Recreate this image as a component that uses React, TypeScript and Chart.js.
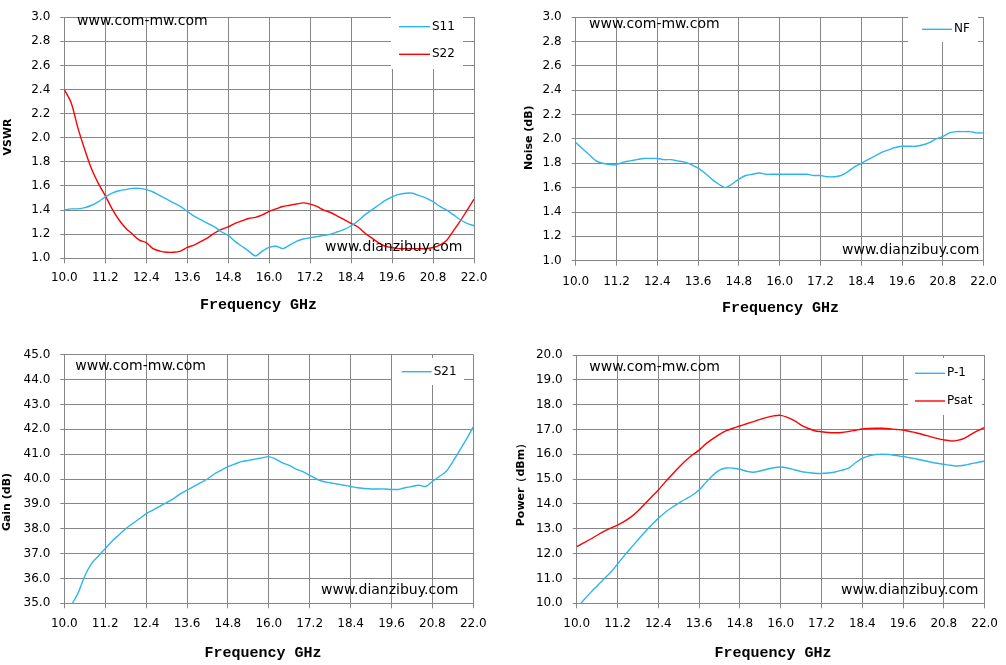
import React, { useEffect, useRef } from 'react';
import { Chart, registerables } from 'chart.js';

Chart.register(...registerables);

const PAGE_W = 1006;
const PAGE_H = 665;
const Y_AXIS_W = 60;
const X_AXIS_H = 40;

const GRID = '#868686';
const BLUE = '#2db6ec';
const RED = '#ff0000';
const SANS = '"DejaVu Sans", sans-serif';
const MONO = '"Liberation Mono", monospace';

// frequency points (GHz) shared by every trace
const freqGHz = [
  10.0, 10.2, 10.4, 10.6, 10.8, 11.0, 11.2, 11.4, 11.6, 11.8,
  12.0, 12.2, 12.4, 12.6, 12.8, 13.0, 13.2, 13.4, 13.6, 13.8,
  14.0, 14.2, 14.4, 14.6, 14.8, 15.0, 15.2, 15.4, 15.6, 15.8,
  16.0, 16.2, 16.4, 16.6, 16.8, 17.0, 17.2, 17.4, 17.6, 17.8,
  18.0, 18.2, 18.4, 18.6, 18.8, 19.0, 19.2, 19.4, 19.6, 19.8,
  20.0, 20.2, 20.4, 20.6, 20.8, 21.0, 21.2, 21.4, 21.6, 21.8, 22.0,
];

const freqTicks = [10.0, 11.2, 12.4, 13.6, 14.8, 16.0, 17.2, 18.4, 19.6, 20.8, 22.0];
const vswrTicks = [1.0, 1.2, 1.4, 1.6, 1.8, 2.0, 2.2, 2.4, 2.6, 2.8, 3.0];
const noiseTicks = [1.0, 1.2, 1.4, 1.6, 1.8, 2.0, 2.2, 2.4, 2.6, 2.8, 3.0];
const gainTicks = [35, 36, 37, 38, 39, 40, 41, 42, 43, 44, 45];
const powerTicks = [10, 11, 12, 13, 14, 15, 16, 17, 18, 19, 20];

const s11 = [
  1.40, 1.41, 1.41, 1.42, 1.44, 1.47, 1.51, 1.54, 1.56, 1.57,
  1.58, 1.58, 1.57, 1.55, 1.52, 1.49, 1.46, 1.43, 1.39, 1.35,
  1.32, 1.29, 1.26, 1.22, 1.19, 1.14, 1.10, 1.06, 1.02, 1.06,
  1.09, 1.10, 1.08, 1.11, 1.14, 1.16, 1.17, 1.18, 1.19, 1.20,
  1.22, 1.24, 1.27, 1.31, 1.36, 1.40, 1.44, 1.48, 1.51, 1.53,
  1.54, 1.54, 1.52, 1.50, 1.47, 1.43, 1.40, 1.36, 1.32, 1.29, 1.27,
];

const s22 = [
  2.40, 2.29, 2.08, 1.90, 1.74, 1.62, 1.52, 1.41, 1.32, 1.25,
  1.20, 1.15, 1.13, 1.08, 1.06, 1.05, 1.05, 1.06, 1.09, 1.11,
  1.14, 1.17, 1.21, 1.24, 1.26, 1.29, 1.31, 1.33, 1.34, 1.36,
  1.39, 1.41, 1.43, 1.44, 1.45, 1.46, 1.45, 1.43, 1.40, 1.38,
  1.35, 1.32, 1.29, 1.26, 1.21, 1.17, 1.13, 1.10, 1.09, 1.08,
  1.08, 1.08, 1.08, 1.08, 1.09, 1.11, 1.15, 1.23, 1.31, 1.40, 1.49,
];

const nf = [
  1.97, 1.92, 1.87, 1.82, 1.80, 1.79, 1.79, 1.81, 1.82, 1.83,
  1.84, 1.84, 1.84, 1.83, 1.83, 1.82, 1.81, 1.79, 1.76, 1.72,
  1.67, 1.63, 1.60, 1.63, 1.67, 1.70, 1.71, 1.72, 1.71, 1.71,
  1.71, 1.71, 1.71, 1.71, 1.71, 1.70, 1.70, 1.69, 1.69, 1.70,
  1.73, 1.77, 1.80, 1.83, 1.86, 1.89, 1.91, 1.93, 1.94, 1.94,
  1.94, 1.95, 1.97, 2.00, 2.02, 2.05, 2.06, 2.06, 2.06, 2.05, 2.05,
];

const s21 = [
  34.3, 34.9, 35.4, 36.1, 36.6, 36.9, 37.2, 37.5, 37.75, 38.0,
  38.2, 38.4, 38.6, 38.75, 38.9, 39.05, 39.2, 39.4, 39.55, 39.7,
  39.85, 40.0, 40.2, 40.35, 40.5, 40.6, 40.7, 40.75, 40.8, 40.85,
  40.9, 40.8, 40.65, 40.55, 40.4, 40.3, 40.15, 40.0, 39.9, 39.85,
  39.8, 39.75, 39.7, 39.65, 39.62, 39.6, 39.6, 39.6, 39.58, 39.58,
  39.65, 39.7, 39.75, 39.7, 39.9, 40.1, 40.3, 40.7, 41.15, 41.6, 42.1,
];

const p1 = [
  9.80, 10.12, 10.42, 10.70, 10.98, 11.25, 11.58, 11.92, 12.24, 12.55,
  12.86, 13.15, 13.42, 13.66, 13.86, 14.03, 14.20, 14.35, 14.56, 14.87,
  15.15, 15.36, 15.45, 15.44, 15.40, 15.32, 15.28, 15.33, 15.40, 15.46,
  15.49, 15.45, 15.38, 15.31, 15.27, 15.24, 15.23, 15.25, 15.29, 15.36,
  15.44, 15.66, 15.84, 15.94, 15.99, 16.00, 15.99, 15.95, 15.91, 15.86,
  15.81, 15.75, 15.69, 15.64, 15.60, 15.56, 15.53, 15.56, 15.62, 15.67, 15.73,
];

const psat = [
  12.28, 12.43, 12.58, 12.74, 12.90, 13.03, 13.15, 13.30, 13.48, 13.72,
  14.00, 14.28, 14.56, 14.88, 15.18, 15.47, 15.74, 15.97, 16.17, 16.42,
  16.62, 16.80, 16.95, 17.05, 17.14, 17.23, 17.32, 17.41, 17.49, 17.55,
  17.57, 17.49, 17.36, 17.18, 17.05, 16.95, 16.91, 16.88, 16.87, 16.88,
  16.92, 16.97, 17.02, 17.04, 17.05, 17.05, 17.03, 17.00, 16.98, 16.92,
  16.86, 16.79, 16.71, 16.64, 16.58, 16.54, 16.56, 16.64, 16.80, 16.95, 17.09,
];

interface Series {
  label: string;
  values: number[];
  color: string;
}

interface Box {
  left: number;
  top: number;
  right: number;
  bottom: number;
}

interface LegendSpec extends Box {
  lineX0: number;
  lineX1: number;
  rows: number[];
}

interface PanelProps {
  box: Box;
  series: Series[];
  yTicks: number[];
  yTitle: string;
  yTitlePos: [number, number];
  xTitlePos: [number, number];
  xLabelPad: number;
  legend: LegendSpec;
  topMark: [number, number];
  bottomMark: [number, number];
}

const Panel: React.FC<PanelProps> = (props) => {
  const canvasRef = useRef<HTMLCanvasElement>(null);

  useEffect(() => {
    if (!canvasRef.current) return;
    const { box, series, yTicks, legend } = props;

    // legend box, watermarks and axis titles
    const decor = {
      id: 'panelDecor',
      afterDatasetsDraw(chart: Chart) {
        const ctx = chart.ctx;
        ctx.save();
        ctx.fillStyle = '#fff';
        ctx.fillRect(legend.left, legend.top, legend.right - legend.left, legend.bottom - legend.top);
        ctx.textAlign = 'left';
        ctx.textBaseline = 'middle';
        series.forEach((s, i) => {
          const y = legend.rows[i];
          ctx.strokeStyle = s.color;
          ctx.lineWidth = 1.4;
          ctx.beginPath();
          ctx.moveTo(legend.lineX0, y);
          ctx.lineTo(legend.lineX1, y);
          ctx.stroke();
          ctx.fillStyle = '#000';
          ctx.font = `12px ${SANS}`;
          ctx.fillText(s.label, legend.lineX1 + 2, y);
        });

        ctx.fillStyle = '#000';
        ctx.font = `14px ${SANS}`;
        ctx.fillText('www.com-mw.com', props.topMark[0], props.topMark[1]);
        ctx.fillText('www.dianzibuy.com', props.bottomMark[0], props.bottomMark[1]);

        ctx.textAlign = 'center';
        ctx.font = `bold 15px ${MONO}`;
        ctx.fillText('Frequency GHz', props.xTitlePos[0], props.xTitlePos[1]);

        ctx.translate(props.yTitlePos[0], props.yTitlePos[1]);
        ctx.rotate(-Math.PI / 2);
        ctx.font = `bold 11px ${SANS}`;
        ctx.fillText(props.yTitle, 0, 0);
        ctx.restore();
      },
    };

    const chart = new Chart(canvasRef.current, {
      type: 'line',
      data: {
        datasets: series.map((s) => ({
          label: s.label,
          data: freqGHz.map((f, i) => ({ x: f, y: s.values[i] })),
          borderColor: s.color,
          backgroundColor: s.color,
          borderWidth: 1.4,
          pointRadius: 0,
          tension: 0.3,
          fill: false,
        })),
      },
      options: {
        responsive: false,
        animation: false,
        events: [],
        layout: {
          padding: {
            left: box.left - Y_AXIS_W,
            top: box.top,
            right: PAGE_W - box.right,
            bottom: PAGE_H - box.bottom - X_AXIS_H,
          },
        },
        plugins: {
          legend: { display: false },
          tooltip: { enabled: false },
        },
        scales: {
          x: {
            type: 'linear',
            min: freqTicks[0],
            max: freqTicks[freqTicks.length - 1],
            afterBuildTicks: (scale: any) => {
              scale.ticks = freqTicks.map((v) => ({ value: v }));
            },
            afterFit: (scale: any) => {
              scale.height = X_AXIS_H;
            },
            grid: { color: GRID, lineWidth: 1, tickLength: 5 },
            border: { color: GRID },
            ticks: {
              color: '#000',
              font: { family: SANS, size: 12 },
              padding: props.xLabelPad,
              autoSkip: false,
              maxRotation: 0,
              callback: (v: any) => Number(v).toFixed(1),
            },
          },
          y: {
            type: 'linear',
            min: yTicks[0],
            max: yTicks[yTicks.length - 1],
            afterBuildTicks: (scale: any) => {
              scale.ticks = yTicks.map((v) => ({ value: v }));
            },
            afterFit: (scale: any) => {
              scale.width = Y_AXIS_W;
            },
            grid: { color: GRID, lineWidth: 1, tickLength: 4 },
            border: { color: GRID },
            ticks: {
              color: '#000',
              font: { family: SANS, size: 12 },
              padding: 10,
              autoSkip: false,
              callback: (v: any) => Number(v).toFixed(1),
            },
          },
        },
      },
      plugins: [decor],
    });

    return () => {
      chart.destroy();
    };
  }, [props]);

  return (
    <canvas
      ref={canvasRef}
      width={PAGE_W}
      height={PAGE_H}
      style={{ position: 'absolute', left: 0, top: 0, width: PAGE_W, height: PAGE_H }}
    />
  );
};

const vswrPanel: PanelProps = {
  box: { left: 64.3, top: 8.3, right: 474, bottom: 258.3 },
  series: [
    { label: 'S11', values: s11, color: BLUE },
    { label: 'S22', values: s22, color: RED },
  ],
  yTicks: vswrTicks,
  yTitle: 'VSWR',
  yTitlePos: [8.3, 137],
  xTitlePos: [258.5, 305],
  xLabelPad: 7,
  legend: { left: 391, top: 13, right: 463, bottom: 69, lineX0: 399, lineX1: 430, rows: [26.7, 54.3] },
  topMark: [77, 21],
  bottomMark: [325, 247],
};

const noisePanel: PanelProps = {
  box: { left: 575.7, top: 12.3, right: 992.3, bottom: 260.7 },
  series: [{ label: 'NF', values: nf, color: BLUE }],
  yTicks: noiseTicks,
  yTitle: 'Noise (dB)',
  yTitlePos: [529.3, 137.7],
  xTitlePos: [780.5, 308.3],
  xLabelPad: 9,
  legend: { left: 908, top: 16, right: 978, bottom: 42, lineX0: 922, lineX1: 952, rows: [29.3] },
  topMark: [589, 24.3],
  bottomMark: [842, 250],
};

const gainPanel: PanelProps = {
  box: { left: 64.3, top: 354.7, right: 473.3, bottom: 603.3 },
  series: [{ label: 'S21', values: s21, color: BLUE }],
  yTicks: gainTicks,
  yTitle: 'Gain (dB)',
  yTitlePos: [7.3, 502],
  xTitlePos: [263, 653],
  xLabelPad: 8,
  legend: { left: 392, top: 358, right: 464, bottom: 385, lineX0: 401.7, lineX1: 431.7, rows: [371.7] },
  topMark: [75.3, 366],
  bottomMark: [321, 590],
};

const powerPanel: PanelProps = {
  box: { left: 576.7, top: 355, right: 991.3, bottom: 603.3 },
  series: [
    { label: 'P-1', values: p1, color: BLUE },
    { label: 'Psat', values: psat, color: RED },
  ],
  yTicks: powerTicks,
  yTitle: 'Power（dBm）',
  yTitlePos: [520.7, 482],
  xTitlePos: [773, 653],
  xLabelPad: 8,
  legend: { left: 908, top: 358, right: 982, bottom: 415, lineX0: 915, lineX1: 945, rows: [373.3, 401] },
  topMark: [589.3, 367.3],
  bottomMark: [841, 590],
};

const App: React.FC = () => {
  return (
    <div
      style={{
        position: 'absolute',
        left: 0,
        top: 0,
        width: PAGE_W,
        height: PAGE_H,
        background: '#fff',
        overflow: 'hidden',
      }}
    >
      <Panel {...vswrPanel} />
      <Panel {...noisePanel} />
      <Panel {...gainPanel} />
      <Panel {...powerPanel} />
    </div>
  );
};

export default App;
